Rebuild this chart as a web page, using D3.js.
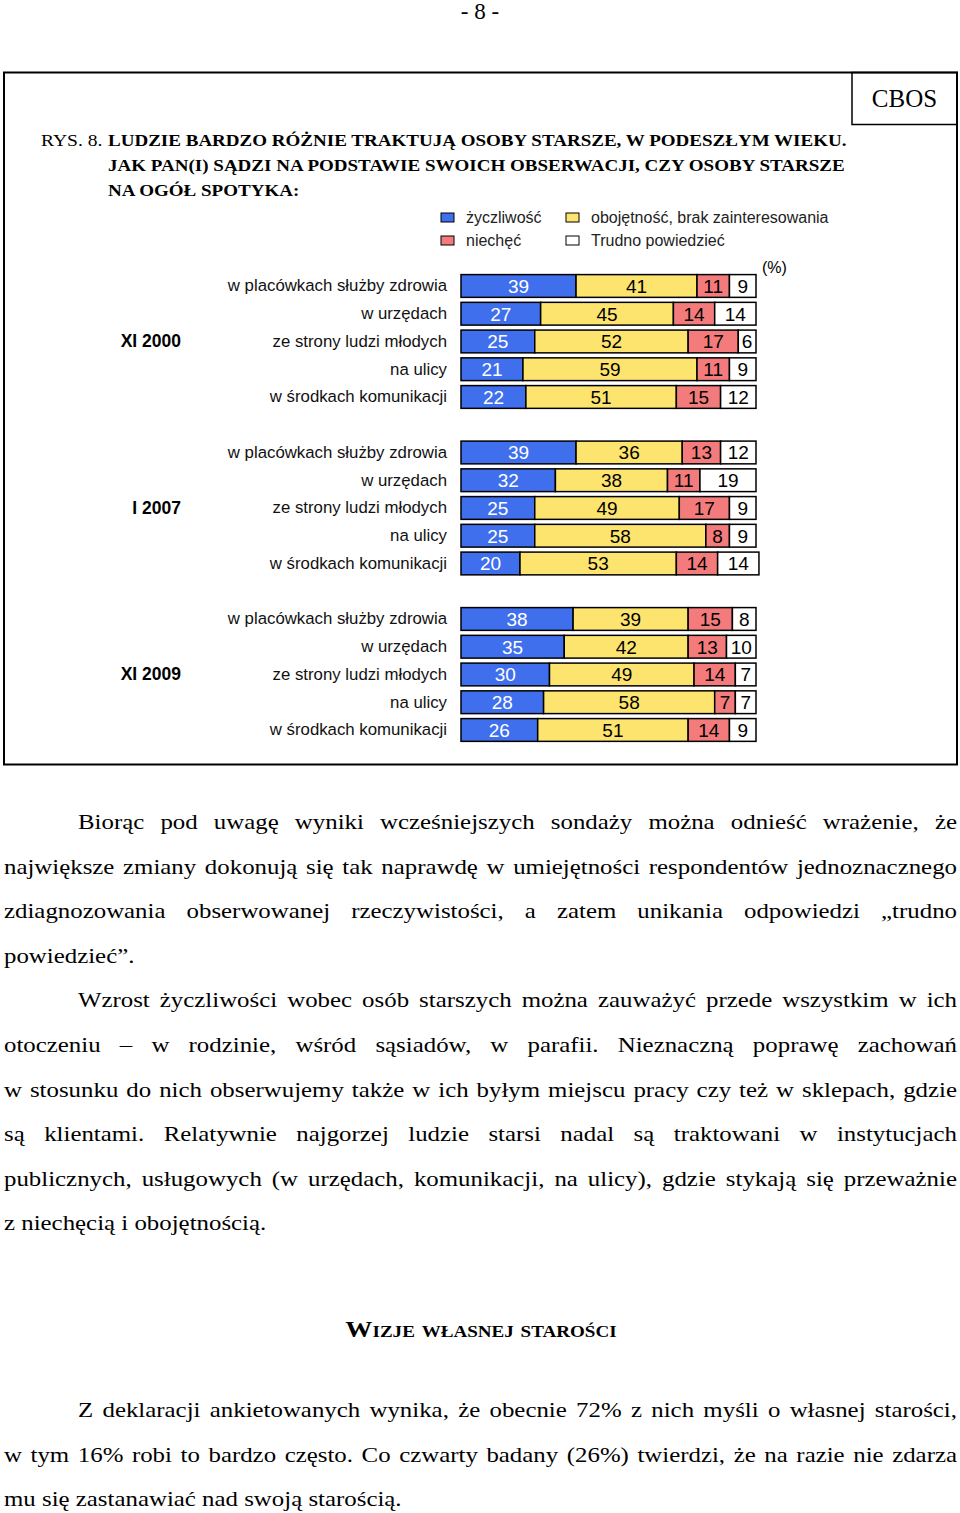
<!DOCTYPE html>
<html><head><meta charset="utf-8">
<script src="https://cdn.jsdelivr.net/npm/d3@7/dist/d3.min.js"></script>
<style>
html,body{margin:0;padding:0;background:#fff;}
svg{display:block;}
</style></head>
<body>
<svg id="page" width="960" height="1513"></svg>
<script>
// ---- data ----
const waves = ["XI 2000", "I 2007", "XI 2009"];
const places = ["w placówkach służby zdrowia", "w urzędach", "ze strony ludzi młodych", "na ulicy", "w środkach komunikacji"];
const seriesNames = ["życzliwość", "obojętność, brak zainteresowania", "niechęć", "Trudno powiedzieć"];
const zyczliwosc = [39, 27, 25, 21, 22,  39, 32, 25, 25, 20,  38, 35, 30, 28, 26];
const obojetnosc = [41, 45, 52, 59, 51,  36, 38, 49, 58, 53,  39, 42, 49, 58, 51];
const niechec    = [11, 14, 17, 11, 15,  13, 11, 17,  8, 14,  15, 13, 14,  7, 14];
const trudno     = [ 9, 14,  6,  9, 12,  12, 19,  9,  9, 14,   8, 10,  7,  7,  9];
const colors = ["#3f6fec", "#fde46e", "#f47b7b", "#ffffff"];
const textColors = ["#ffffff", "#000000", "#000000", "#000000"];

const titleLines = ["LUDZIE BARDZO RÓŻNIE TRAKTUJĄ OSOBY STARSZE, W PODESZŁYM WIEKU.",
  "JAK PAN(I) SĄDZI NA PODSTAWIE SWOICH OBSERWACJI, CZY OSOBY STARSZE",
  "NA OGÓŁ SPOTYKA:"];

const paragraphs = [
  ["Biorąc pod uwagę wyniki wcześniejszych sondaży można odnieść wrażenie, że",
   "największe zmiany dokonują się tak naprawdę w umiejętności respondentów jednoznacznego",
   "zdiagnozowania obserwowanej rzeczywistości, a zatem unikania odpowiedzi „trudno",
   "powiedzieć”."],
  ["Wzrost życzliwości wobec osób starszych można zauważyć przede wszystkim w ich",
   "otoczeniu – w rodzinie, wśród sąsiadów, w parafii. Nieznaczną poprawę zachowań",
   "w stosunku do nich obserwujemy także w ich byłym miejscu pracy czy też w sklepach, gdzie",
   "są klientami. Relatywnie najgorzej ludzie starsi nadal są traktowani w instytucjach",
   "publicznych, usługowych (w urzędach, komunikacji, na ulicy), gdzie stykają się przeważnie",
   "z niechęcią i obojętnością."],
  ["Z deklaracji ankietowanych wynika, że obecnie 72% z nich myśli  o własnej starości,",
   "w tym 16% robi to bardzo często. Co czwarty badany (26%) twierdzi, że na razie nie zdarza",
   "mu się zastanawiać nad swoją starością."]
];
const heading = "Wizje własnej starości";

// ---- build ----
const svg = d3.select("#page");
const serif = "'Liberation Serif','Times New Roman',serif";
const sans = "'Liberation Sans',Arial,sans-serif";

// horizontally stretched text helper (the scanned page is wider than tall)
function stext(parent, X, Y, sx) {
  return parent.append("g").attr("transform", `scale(${sx},1)`)
    .append("text").attr("x", X / sx).attr("y", Y);
}

// page number
svg.append("text").attr("x", 480).attr("y", 19).attr("text-anchor", "middle")
  .attr("font-family", serif).attr("font-size", 23).text("- 8 -");

// frame
svg.append("rect").attr("x", 4).attr("y", 72.5).attr("width", 953).attr("height", 692)
  .attr("fill", "none").attr("stroke", "#000").attr("stroke-width", 2);
svg.append("rect").attr("x", 852).attr("y", 72.5).attr("width", 105).attr("height", 52)
  .attr("fill", "none").attr("stroke", "#000").attr("stroke-width", 1.5);
svg.append("text").attr("x", 904.5).attr("y", 107).attr("text-anchor", "middle")
  .attr("font-family", serif).attr("font-size", 25).text("CBOS");

// title
const tsx = 1.12;
stext(svg, 41, 146, 1.15).attr("font-family", serif).attr("font-size", 17).text("RYS. 8.");
titleLines.forEach((t, i) => {
  stext(svg, 108, 146 + i * 25, tsx).attr("font-family", serif)
    .attr("font-size", 17).attr("font-weight", "bold").text(t);
});

// legend
const legendPos = [[441, 213], [566, 213], [441, 236], [566, 236]];
seriesNames.forEach((n, i) => {
  const [lx, ly] = legendPos[i];
  svg.append("rect").attr("x", lx).attr("y", ly).attr("width", 13).attr("height", 9)
    .attr("fill", colors[i]).attr("stroke", "#000").attr("stroke-width", 1);
  svg.append("text").attr("x", lx + 25).attr("y", ly + 10).attr("font-family", sans)
    .attr("font-size", 16).attr("fill", "#222").text(n);
});
svg.append("text").attr("x", 762).attr("y", 273).attr("font-family", sans)
  .attr("font-size", 16).text("(%)");

// scales
const x = d3.scaleLinear().domain([0, 100]).range([461, 756]);
const slotCount = waves.length * (places.length + 1) - 1;
const y = d3.scaleBand().domain(d3.range(slotCount)).range([272.1, 272.1 + slotCount * 27.75])
  .paddingInner(0.18).paddingOuter(0.09);

const rows = [];
waves.forEach((w, g) => places.forEach((p, r) => {
  const k = g * places.length + r;
  const vals = [zyczliwosc[k], obojetnosc[k], niechec[k], trudno[k]];
  let acc = 0;
  const segs = vals.map((v, s) => { const seg = {v, s, x0: acc, x1: acc + v}; acc += v; return seg; });
  rows.push({wave: w, g, r, place: p, slot: g * (places.length + 1) + r, segs});
}));

const rowG = svg.selectAll("g.row").data(rows).join("g").attr("class", "row")
  .attr("transform", d => `translate(0,${y(d.slot)})`);
rowG.selectAll("rect").data(d => d.segs).join("rect")
  .attr("x", d => x(d.x0)).attr("width", d => x(d.x1) - x(d.x0))
  .attr("y", 0).attr("height", y.bandwidth())
  .attr("fill", d => colors[d.s]).attr("stroke", "#000").attr("stroke-width", 1.5);
rowG.selectAll("text.val").data(d => d.segs).join("text").attr("class", "val")
  .attr("x", d => (x(d.x0) + x(d.x1)) / 2).attr("y", y.bandwidth() / 2 + 7)
  .attr("text-anchor", "middle").attr("font-family", sans).attr("font-size", 19)
  .attr("fill", d => textColors[d.s]).text(d => d.v);
rowG.append("text").attr("x", 447).attr("y", y.bandwidth() / 2 + 5.5)
  .attr("text-anchor", "end").attr("font-family", sans).attr("font-size", 16.8)
  .attr("fill", "#111").text(d => d.place);

waves.forEach((w, g) => {
  const mid = g * (places.length + 1) + 2;
  svg.append("text").attr("x", 181).attr("y", y(mid) + y.bandwidth() / 2 + 6)
    .attr("text-anchor", "end").attr("font-family", sans).attr("font-size", 17.5)
    .attr("font-weight", "bold").text(w);
});

// body text (justified)
const left = 4, right = 957, indent = 78, fs = 22, bsx = 1.13;
function drawLine(txt, y0, xStart, justify) {
  const words = txt.split(/\s+/).filter(s => s.length);
  const g = svg.append("g").attr("transform", `scale(${bsx},1)`);
  const els = words.map(wd => g.append("text").attr("y", y0).attr("font-family", serif)
    .attr("font-size", fs).text(wd));
  const widths = els.map(e => e.node().getComputedTextLength() * bsx);
  const total = d3.sum(widths);
  const spaceW = fs * 0.25 * bsx;
  const gap = justify && words.length > 1 ? (right - xStart - total) / (words.length - 1) : spaceW;
  let cx = xStart;
  els.forEach((e, i) => { e.attr("x", cx / bsx); cx += widths[i] + gap; });
}
const pitch = 44.6;
let base = 829;
paragraphs[0].forEach((l, i) => drawLine(l, base + i * pitch, i === 0 ? indent : left, i < paragraphs[0].length - 1));
base = 829 + 4 * pitch;
paragraphs[1].forEach((l, i) => drawLine(l, base + i * pitch, i === 0 ? indent : left, i < paragraphs[1].length - 1));

stext(svg, 481, 1337, 1.13).attr("text-anchor", "middle")
  .attr("font-family", serif).attr("font-size", 24).attr("font-weight", "bold")
  .style("font-variant", "small-caps").text(heading);

base = 1417;
paragraphs[2].forEach((l, i) => drawLine(l, base + i * pitch, i === 0 ? indent : left, i < paragraphs[2].length - 1));
</script>
</body></html>
